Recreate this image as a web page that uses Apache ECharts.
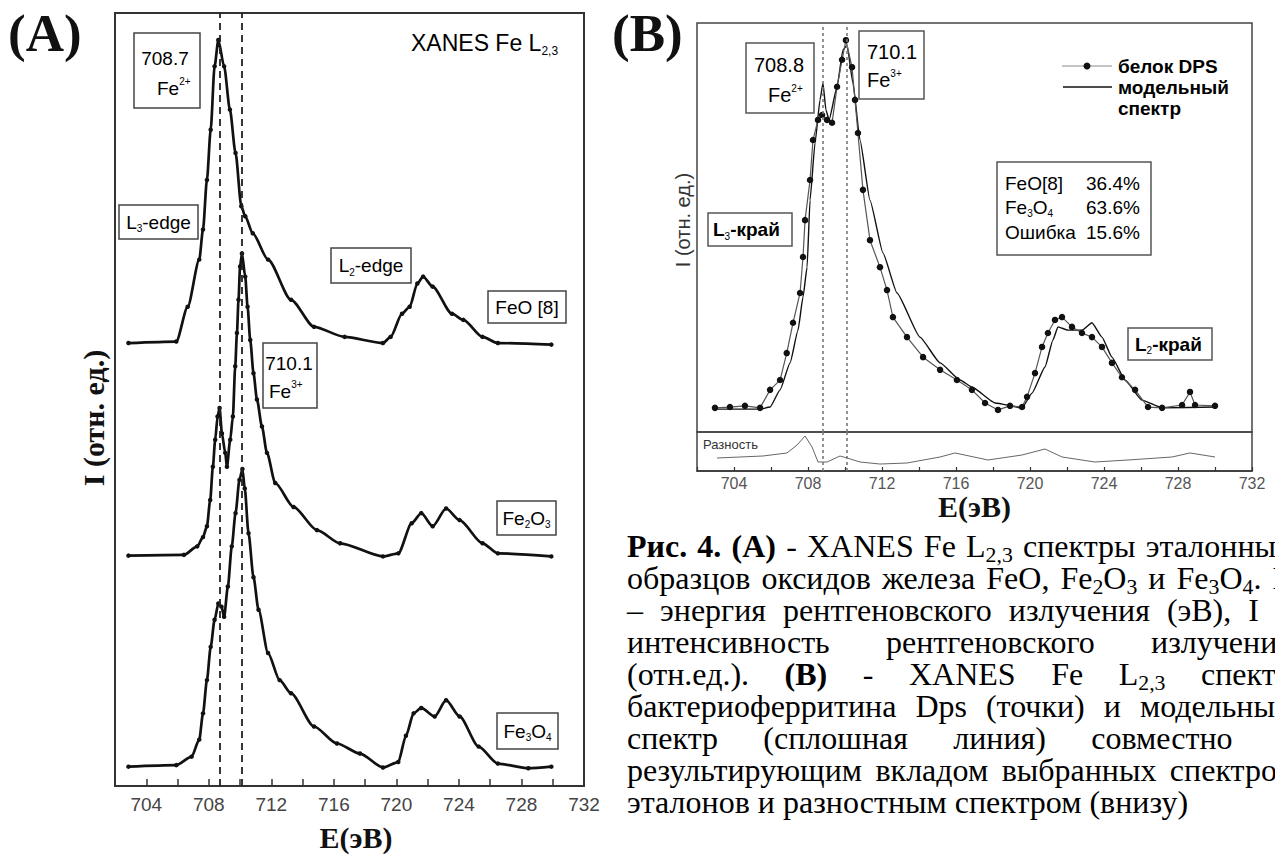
<!DOCTYPE html>
<html>
<head>
<meta charset="utf-8">
<script src="https://cdn.jsdelivr.net/npm/echarts@6/dist/echarts.min.js"></script>
<style>
    html, body { margin: 0; padding: 0; background: #fff; width: 1275px; height: 858px; overflow: hidden; }
    #chart { position: absolute; left: 0; top: 0; width: 1275px; height: 858px; }
    #caption { position: absolute; left: 627px; top: 530px; width: 665px; z-index: 2;
        font-family: "Liberation Serif", "Times New Roman", serif; font-size: 32px; line-height: 32px; color: #000; }
    #caption div { text-align: justify; text-align-last: justify; }
    #caption div.last { text-align-last: left; }
    #caption sub { font-size: 0.68em; line-height: 0; vertical-align: -0.22em; }
</style>
</head>
<body>
<div id="chart"></div>
<div id="caption">
    <div><b>Рис. 4. (A)</b> - XANES Fe L<sub>2,3</sub> спектры эталонных</div>
    <div>образцов оксидов железа FeO, Fe<sub>2</sub>O<sub>3</sub> и Fe<sub>3</sub>O<sub>4</sub>. E</div>
    <div>– энергия рентгеновского излучения (эВ), I –</div>
    <div>интенсивность рентгеновского излучения</div>
    <div>(отн.ед.). <b>(B)</b> - XANES Fe L<sub>2,3</sub> спектр</div>
    <div>бактериоферритина Dps (точки) и модельный</div>
    <div>спектр (сплошная линия) совместно с</div>
    <div>результирующим вкладом выбранных спектров</div>
    <div class="last">эталонов и разностным спектром (внизу)</div>
</div>
<script>
    // (A) эталоны: энергия, эВ / интенсивность, отн. ед. (со сдвигом по вертикали)
    const feoE = [702.86, 705.92, 706.65, 707.39, 707.63, 707.88, 708.12, 708.37, 708.61, 708.98,
        709.35, 709.71, 710.08, 710.33, 710.81, 711.79, 713.26, 714.73, 716.69, 719.14,
        719.63, 720.36, 720.85, 721.34, 721.71, 722.32, 723.55, 724.28, 725.51, 726.49, 729.91];
    const feoI = [57.3, 57.5, 62.0, 68.1, 72.0, 78.4, 84.9, 93.1, 96.5, 93.1,
        87.5, 81.9, 75.0, 73.7, 71.5, 68.1, 62.9, 59.4, 58.1, 57.3,
        58.1, 61.1, 62.0, 65.0, 65.9, 64.6, 61.1, 60.3, 58.1, 57.3, 57.1];

    const fe2o3E = [702.86, 706.41, 707.26, 707.63, 707.88, 708.09, 708.26, 708.41, 708.56, 708.69,
        708.84, 709.05, 709.16, 709.37, 709.54, 709.69, 709.8, 709.9, 710.0, 710.12,
        710.33, 710.48, 710.65, 710.86, 711.08, 711.4, 711.72, 712.25, 713.42, 714.92,
        716.4, 719.14, 720.12, 720.98, 721.59, 722.32, 723.18, 724.04, 725.51, 726.49, 729.91];
    const fe2o3I = [29.8, 29.9, 31.0, 32.2, 33.6, 37.0, 41.3, 44.8, 47.8, 48.9,
        45.6, 43.1, 41.3, 44.8, 47.8, 54.3, 58.6, 62.9, 67.2, 68.9,
        65.9, 62.0, 57.7, 53.4, 50.0, 46.5, 43.1, 39.2, 36.1, 33.1,
        31.4, 29.7, 30.1, 34.0, 35.3, 33.6, 35.9, 34.4, 31.4, 30.1, 29.7];

    const fe3o4E = [702.86, 705.92, 706.9, 707.39, 707.63, 707.88, 708.12, 708.37, 708.61, 708.81,
        708.98, 709.22, 709.47, 709.71, 709.96, 710.15, 710.3, 710.54, 710.86, 711.18,
        711.79, 712.53, 713.26, 714.73, 716.2, 717.67, 719.14, 720.12, 720.61, 721.1,
        721.59, 722.45, 723.18, 724.04, 725.26, 726.49, 728.44, 729.91];
    const fe3o4I = [2.5, 2.7, 3.8, 6.0, 9.4, 13.7, 18.0, 21.5, 23.6, 23.2,
        21.9, 25.8, 31.0, 35.3, 39.6, 41.0, 38.5, 32.7, 27.0, 22.8,
        17.2, 13.7, 12.0, 7.7, 5.5, 4.2, 2.4, 3.1, 6.5, 9.4,
        10.1, 9.0, 11.1, 9.0, 5.1, 2.9, 2.3, 2.5];

    // (B) белок DPS, модельный спектр и разность
    const dpsE = [702.97, 703.78, 704.59, 705.41, 705.95, 706.49, 706.85, 707.19, 707.57, 707.73,
        707.84, 708.11, 708.27, 708.54, 708.76, 709.03, 709.3, 709.57, 709.84, 710.05,
        710.38, 710.54, 710.7, 710.97, 711.35, 711.89, 712.27, 712.59, 713.35, 714.22,
        715.14, 716.05, 716.86, 717.57, 718.27, 718.92, 719.57, 719.84, 720.27, 720.65,
        720.97, 721.35, 721.73, 722.27, 722.81, 723.35, 723.89, 724.43, 724.97, 725.68,
        726.38, 727.14, 728.22, 728.65, 728.92, 730.0];
    const dpsI = [5.9, 6.1, 6.4, 5.9, 10.3, 12.7, 19.3, 26.7, 34.0, 42.8,
        51.8, 61.6, 71.4, 76.3, 77.5, 76.3, 75.6, 84.4, 91.0, 95.8,
        89.2, 81.2, 73.1, 59.2, 46.9, 40.3, 34.7, 28.1, 23.2, 18.3,
        15.2, 12.7, 10.3, 7.1, 5.4, 6.4, 6.1, 8.6, 14.4, 20.8,
        24.2, 27.4, 28.1, 25.7, 24.2, 23.2, 20.8, 16.9, 13.4, 10.3,
        6.1, 5.9, 6.6, 9.8, 6.6, 6.4];

    const modelE = [702.97, 705.41, 705.95, 706.49, 707.03, 707.46, 707.73, 707.95, 708.11, 708.38,
        708.65, 708.81, 708.97, 709.14, 709.57, 709.89, 710.11, 710.43, 710.81, 711.35,
        712.05, 712.81, 714.05, 715.14, 716.22, 716.86, 718.11, 719.57, 720.11, 720.81,
        721.24, 721.51, 722.05, 722.81, 723.35, 723.89, 724.43, 725.14, 726.05, 727.14, 730.0];
    const modelI = [5.6, 5.6, 6.1, 10.3, 16.9, 24.9, 33.0, 40.3, 56.7, 70.7,
        81.2, 85.3, 78.7, 76.3, 84.4, 93.4, 94.6, 85.3, 71.4, 56.7,
        43.8, 34.0, 23.2, 16.9, 12.7, 11.0, 7.1, 5.9, 9.5, 15.9,
        22.5, 25.7, 24.9, 24.9, 26.7, 23.2, 18.3, 12.7, 7.8, 5.9, 6.1];

    const diffE = [703.08, 705.57, 706.86, 707.41, 707.84, 708.22, 708.54, 709.03, 709.73, 710.11,
        710.81, 711.89, 713.35, 715.14, 715.95, 717.73, 719.57, 720.81, 721.73, 723.51,
        725.3, 727.68, 728.65, 730.0];
    const diffI = [33.3, 38.5, 46.2, 66.7, 89.7, 61.5, 23.1, 23.1, 38.5, 33.3,
        23.1, 17.9, 20.5, 35.9, 46.2, 28.2, 41.0, 56.4, 35.9, 23.1,
        28.2, 35.9, 46.2, 35.9];

    const peaksA = [708.7, 710.1];
    const peaksB = [708.8, 710.1];

    const SANS = '"Liberation Sans", Arial, sans-serif';
    const SERIF = '"Liberation Serif", "Times New Roman", serif';

    const zip = (xs, ys) => xs.map((x, i) => [x, ys[i]]);
    const tickFmt = v => (v % 4 === 0 ? String(v) : '');

    const rich = (size, color, weight) => ({
        n: {fontSize: size, fontFamily: SANS, color: color, fontWeight: weight || 'normal', lineHeight: size + 4},
        sup: {fontSize: Math.round(size * 0.52), fontFamily: SANS, color: color, verticalAlign: 'top', lineHeight: Math.round(size * 0.55)},
        sub: {fontSize: Math.round(size * 0.52), fontFamily: SANS, color: color, verticalAlign: 'bottom', lineHeight: Math.round(size * 0.55)},
    });

    const box = (x, y, w, h, color) => ({
        type: 'rect', shape: {x: x, y: y, width: w, height: h}, silent: true,
        style: {fill: 'none', stroke: color || '#444', lineWidth: 1.5},
    });
    const label = (x, y, text, size, color, align, weight) => ({
        type: 'text', x: x, y: y, silent: true,
        style: {text: text, rich: rich(size, color, weight), align: align || 'center', verticalAlign: 'middle'},
    });
    const rotated = (x, y, text, font, fill) => ({
        type: 'text', x: x, y: y, rotation: Math.PI / 2, silent: true,
        style: {text: text, font: font, fill: fill, align: 'center', verticalAlign: 'middle'},
    });

    const markLines = (vals, style) => ({
        silent: true, symbol: 'none', animation: false, label: {show: false},
        lineStyle: style, data: vals.map(v => ({xAxis: v})),
    });
    const dashA = {color: '#222', type: [7, 5], width: 1.8};
    const dotB = {color: '#777', type: [3, 3], width: 1.6};

    const refLine = (name, e, i, withMarks) => ({
        name: name, type: 'line', xAxisIndex: 0, yAxisIndex: 0, data: zip(e, i),
        smooth: 0.25, smoothMonotone: 'x',
        symbol: 'circle', symbolSize: 4.5, showSymbol: true,
        itemStyle: {color: '#111'}, lineStyle: {color: '#111', width: 2.7},
        markLine: withMarks ? markLines(peaksA, dashA) : undefined,
    });

    const chart = echarts.init(document.getElementById('chart'), null, {renderer: 'svg'});
    chart.setOption({
        animation: false,
        backgroundColor: '#fff',
        grid: [
            {left: 115, top: 13, width: 469, height: 773, show: true, borderColor: '#333', borderWidth: 2},
            {left: 697, top: 23, width: 555, height: 409, show: true, borderColor: '#444', borderWidth: 1.5},
            {left: 697, top: 432, width: 555, height: 39, show: true, borderColor: '#444', borderWidth: 1.5},
        ],
        xAxis: [
            {
                gridIndex: 0, type: 'value', min: 702, max: 732, interval: 2,
                axisLine: {show: true, onZero: false, lineStyle: {color: '#333', width: 2}},
                axisTick: {show: true, inside: true, length: 7, lineStyle: {color: '#333', width: 1.5}},
                axisLabel: {formatter: tickFmt, fontSize: 19, color: '#444', fontFamily: SANS, margin: 9},
                splitLine: {show: false},
                name: 'E(эВ)', nameLocation: 'middle', nameGap: 36,
                nameTextStyle: {fontFamily: SERIF, fontWeight: 'bold', fontSize: 30, color: '#111', padding: [0, 0, 0, 13]},
            },
            {
                gridIndex: 1, type: 'value', min: 702, max: 732,
                axisLine: {show: false}, axisTick: {show: false}, axisLabel: {show: false}, splitLine: {show: false},
            },
            {
                gridIndex: 2, type: 'value', min: 702, max: 732, interval: 2,
                axisLine: {show: true, onZero: false, lineStyle: {color: '#333', width: 1.5}},
                axisTick: {show: true, inside: true, length: 4, lineStyle: {color: '#333', width: 1.2}},
                axisLabel: {formatter: tickFmt, fontSize: 16, color: '#555', fontFamily: SANS, margin: 4},
                splitLine: {show: false},
                name: 'E(эВ)', nameLocation: 'middle', nameGap: 17,
                nameTextStyle: {fontFamily: SERIF, fontWeight: 'bold', fontSize: 30, color: '#111'},
            },
        ],
        yAxis: [
            {gridIndex: 0, type: 'value', min: 0, max: 100, show: false},
            {gridIndex: 1, type: 'value', min: 0, max: 100, show: false},
            {gridIndex: 2, type: 'value', min: 0, max: 100, show: false},
        ],
        series: [
            refLine('FeO [8]', feoE, feoI, true),
            refLine('Fe2O3', fe2o3E, fe2o3I, false),
            refLine('Fe3O4', fe3o4E, fe3o4I, false),
            {
                name: 'модельный спектр', type: 'line', xAxisIndex: 1, yAxisIndex: 1,
                data: zip(modelE, modelI), smooth: 0.15, smoothMonotone: 'x', showSymbol: false,
                lineStyle: {color: '#111', width: 1.4},
                markLine: markLines(peaksB, dotB),
            },
            {
                name: 'белок DPS', type: 'line', xAxisIndex: 1, yAxisIndex: 1,
                data: zip(dpsE, dpsI), symbol: 'circle', symbolSize: 6.5, showSymbol: true,
                itemStyle: {color: '#111'}, lineStyle: {color: '#555', width: 1.2},
            },
            {
                name: 'Разность', type: 'line', xAxisIndex: 2, yAxisIndex: 2,
                data: zip(diffE, diffI), showSymbol: false,
                lineStyle: {color: '#666', width: 1},
                markLine: markLines(peaksB, dotB),
            },
        ],
        graphic: [
            // (A)
            {type: 'text', x: 8, y: 6, silent: true, style: {text: '(A)', font: 'bold 53px ' + SERIF, fill: '#111'}},
            label(411, 43, '{n|XANES Fe L}{sub|2,3}', 23, '#333', 'left'),
            box(134, 33, 66, 75),
            label(165, 58, '{n|708.7}', 19, '#333'),
            label(157, 88, '{n|Fe}{sup|2+}', 19, '#333', 'left'),
            box(119, 205, 79, 34),
            label(158.5, 222, '{n|L}{sub|3}{n|-edge}', 19, '#333'),
            box(331, 248, 80, 35),
            label(371, 265.5, '{n|L}{sub|2}{n|-edge}', 19, '#333'),
            box(488, 291, 78, 32),
            label(527, 307, '{n|FeO [8]}', 19, '#333'),
            box(263, 343, 54, 65),
            label(289, 363, '{n|710.1}', 19, '#333'),
            label(269, 391, '{n|Fe}{sup|3+}', 19, '#333', 'left'),
            box(497, 501, 59, 34),
            label(526.5, 518, '{n|Fe}{sub|2}{n|O}{sub|3}', 19, '#333'),
            box(497, 713, 61, 36),
            label(527.5, 731, '{n|Fe}{sub|3}{n|O}{sub|4}', 19, '#333'),
            rotated(93, 418, 'I (отн. ед.)', 'bold 30px ' + SERIF, '#111'),

            // (B)
            {type: 'text', x: 612, y: 6, silent: true, style: {text: '(B)', font: 'bold 53px ' + SERIF, fill: '#111'}},
            box(746, 43, 68, 70, '#555'),
            label(779, 65, '{n|708.8}', 20, '#333'),
            label(768, 95, '{n|Fe}{sup|2+}', 20, '#333', 'left'),
            box(859, 31, 65, 68, '#555'),
            label(867, 52, '{n|710.1}', 20, '#333', 'left'),
            label(867, 80, '{n|Fe}{sup|3+}', 20, '#333', 'left'),
            box(708, 213, 84, 33, '#555'),
            label(713, 229.5, '{n|L}{sub|3}{n|-край}', 19, '#222', 'left', 'bold'),
            box(1128, 328, 84, 32, '#555'),
            label(1135, 344, '{n|L}{sub|2}{n|-край}', 19, '#222', 'left', 'bold'),
            box(997, 162, 154, 93, '#555'),
            label(1005, 183, '{n|FeO[8]}', 19, '#222', 'left'),
            label(1086, 183, '{n|36.4%}', 19, '#222', 'left'),
            label(1005, 207, '{n|Fe}{sub|3}{n|O}{sub|4}', 19, '#222', 'left'),
            label(1086, 207, '{n|63.6%}', 19, '#222', 'left'),
            label(1005, 232, '{n|Ошибка}', 19, '#222', 'left'),
            label(1086, 232, '{n|15.6%}', 19, '#222', 'left'),
            {type: 'line', silent: true, shape: {x1: 1062, y1: 66, x2: 1112, y2: 66}, style: {stroke: '#888', lineWidth: 1}},
            {type: 'circle', silent: true, shape: {cx: 1087, cy: 66, r: 3.5}, style: {fill: '#111'}},
            label(1118, 66, '{n|белок DPS}', 19, '#222', 'left', 'bold'),
            {type: 'line', silent: true, shape: {x1: 1063, y1: 87, x2: 1112, y2: 87}, style: {stroke: '#111', lineWidth: 1.6}},
            label(1118, 87, '{n|модельный}', 19, '#222', 'left', 'bold'),
            label(1118, 108, '{n|спектр}', 19, '#222', 'left', 'bold'),
            {type: 'text', x: 703, y: 444, silent: true, style: {text: 'Разность', font: '13px ' + SANS, fill: '#333', verticalAlign: 'middle'}},
            rotated(683, 220, 'I (отн. ед.)', '20px ' + SANS, '#333'),
        ],
    });
</script>
</body>
</html>
